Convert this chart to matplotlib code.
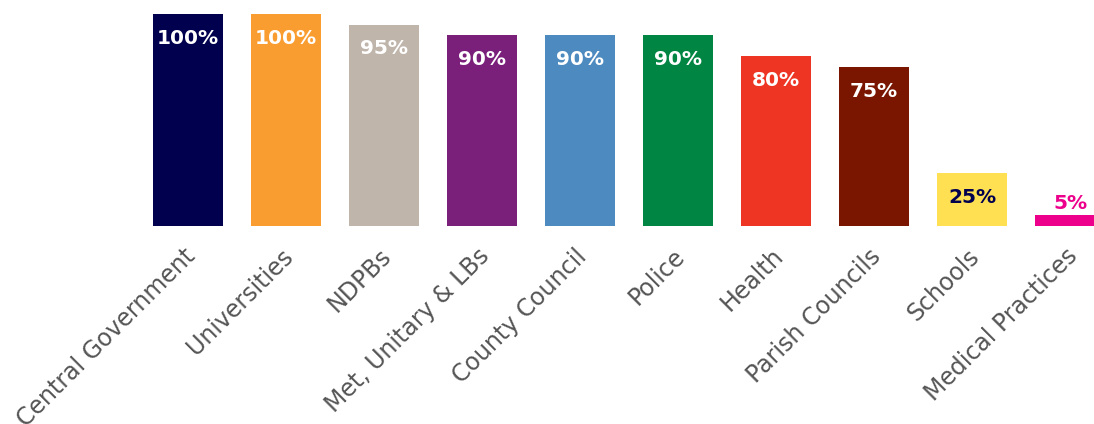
import numpy as np
import matplotlib.pyplot as plt
import matplotlib.transforms as mtransforms

categories = ['Central Government', 'Universities', 'NDPBs', 'Met, Unitary & LBs',
              'County Council', 'Police', 'Health', 'Parish Councils', 'Schools',
              'Medical Practices']
values = [100, 100, 95, 90, 90, 90, 80, 75, 25, 5]
colors = ['#00004F', '#F99D31', '#BFB5AB', '#7A1F7A', '#4D8ABF',
          '#008542', '#EE3524', '#7A1500', '#FFE052', '#EC008C']
label_colors = ['white'] * 8 + ['#00004F', '#EC008C']

fig = plt.figure(figsize=(10.94, 4.24), dpi=100)
ax = fig.add_axes([0, 198 / 424, 1, 212 / 424])

x = np.arange(len(categories))
ax.bar(x, values, width=0.714, color=colors)

for i, v in enumerate(values):
    if v >= 20:
        ax.text(x[i], v - 11.5, '%d%%' % v, ha='center', va='center',
                color=label_colors[i], fontsize=14.5, fontweight='bold')
    else:
        ax.text(x[i], v + 5.5, '%d%%' % v, ha='center', va='center',
                color=label_colors[i], fontsize=14.5, fontweight='bold')

ax.set_xlim(-188 / 98, (1094 - 188) / 98)
ax.set_ylim(0, 100)
ax.set_xticks(x)
ax.set_xticklabels(categories, rotation=45, ha='right', rotation_mode='anchor',
                   fontsize=17, color='#555555')
ax.tick_params(axis='x', length=0, pad=13)
# nudge the slanted labels a little to the left
offset = mtransforms.ScaledTranslation(-5 / 100, 0, fig.dpi_scale_trans)
for lbl in ax.get_xticklabels():
    lbl.set_transform(lbl.get_transform() + offset)
ax.set_yticks([])
for s in ax.spines.values():
    s.set_visible(False)

fig.savefig('out.png', dpi=100)
